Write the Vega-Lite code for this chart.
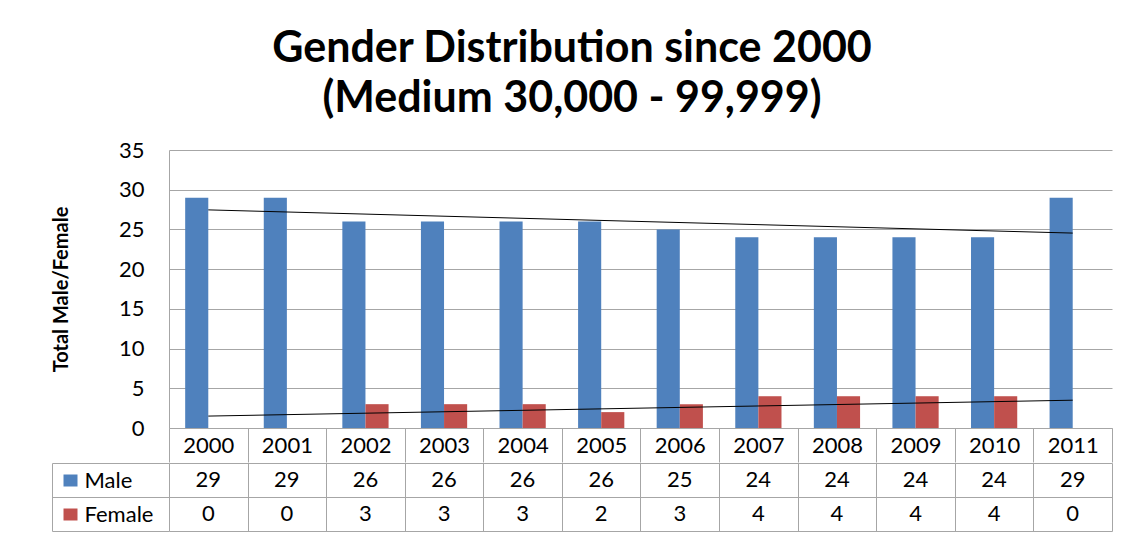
{
  "$schema": "https://vega.github.io/schema/vega-lite/v6.json",
  "padding": {"left": 51, "top": 28, "right": 24, "bottom": 5},
  "background": "white",
  "spacing": -12,
  "config": {
    "font": "Lato",
    "view": {"stroke": null}
  },
  "title": {
    "text": ["Gender Distribution since 2000", "(Medium 30,000 - 99,999)"],
    "font": "Lato",
    "fontSize": 43,
    "fontWeight": "bold",
    "lineHeight": 50,
    "color": "#000000",
    "anchor": "middle",
    "dx": -10,
    "offset": 18
  },
  "datasets": {
    "main": [
      {"year": "2000", "series": "Male", "value": 29},
      {"year": "2001", "series": "Male", "value": 29},
      {"year": "2002", "series": "Male", "value": 26},
      {"year": "2003", "series": "Male", "value": 26},
      {"year": "2004", "series": "Male", "value": 26},
      {"year": "2005", "series": "Male", "value": 26},
      {"year": "2006", "series": "Male", "value": 25},
      {"year": "2007", "series": "Male", "value": 24},
      {"year": "2008", "series": "Male", "value": 24},
      {"year": "2009", "series": "Male", "value": 24},
      {"year": "2010", "series": "Male", "value": 24},
      {"year": "2011", "series": "Male", "value": 29},
      {"year": "2000", "series": "Female", "value": 0},
      {"year": "2001", "series": "Female", "value": 0},
      {"year": "2002", "series": "Female", "value": 3},
      {"year": "2003", "series": "Female", "value": 3},
      {"year": "2004", "series": "Female", "value": 3},
      {"year": "2005", "series": "Female", "value": 2},
      {"year": "2006", "series": "Female", "value": 3},
      {"year": "2007", "series": "Female", "value": 4},
      {"year": "2008", "series": "Female", "value": 4},
      {"year": "2009", "series": "Female", "value": 4},
      {"year": "2010", "series": "Female", "value": 4},
      {"year": "2011", "series": "Female", "value": 0}
    ],
    "trend": [
      {"year": "2000", "series": "Male", "value": 27.46},
      {"year": "2011", "series": "Male", "value": 24.54},
      {"year": "2000", "series": "Female", "value": 1.5},
      {"year": "2011", "series": "Female", "value": 3.5}
    ]
  },
  "vconcat": [
    {
      "width": 943,
      "height": 278,
      "encoding": {
        "x": {
          "field": "year",
          "type": "nominal",
          "scale": {"paddingInner": 0, "paddingOuter": 0},
          "axis": {
            "title": null,
            "orient": "bottom",
            "tickBand": "extent",
            "tickSize": 34,
            "tickColor": "#a6a6a6",
            "domainColor": "#a6a6a6",
            "labelAngle": 0,
            "labelFont": "Lato",
            "labelFontSize": 22,
            "labelColor": "#000000",
            "labelBaseline": "middle",
            "labelPadding": -17,
            "minExtent": 34,
            "maxExtent": 34,
            "grid": false
          }
        },
        "y": {
          "field": "value",
          "type": "quantitative",
          "scale": {"domain": [0, 35], "nice": false},
          "axis": {
            "title": "Total Male/Female",
            "values": [0, 5, 10, 15, 20, 25, 30, 35],
            "labelOverlap": false,
            "ticks": false,
            "domainColor": "#a6a6a6",
            "gridColor": "#a6a6a6",
            "gridOpacity": 1,
            "labelFont": "Lato",
            "labelFontSize": 22,
            "labelColor": "#000000",
            "labelPadding": 25,
            "titleFont": "Lato",
            "titleFontSize": 20,
            "titleFontWeight": "bold",
            "titleColor": "#000000",
            "titlePadding": 47
          }
        }
      },
      "layer": [
        {
          "data": {"name": "main"},
          "mark": {"type": "bar"},
          "encoding": {
            "xOffset": {
              "field": "series",
              "type": "nominal",
              "scale": {"domain": ["Male", "Female"], "paddingInner": 0, "paddingOuter": 0.7}
            },
            "color": {
              "field": "series",
              "type": "nominal",
              "scale": {"domain": ["Male", "Female"], "range": ["#4F81BD", "#C0504D"]},
              "legend": null
            }
          }
        },
        {
          "data": {"name": "trend"},
          "mark": {"type": "line", "color": "#000000", "strokeWidth": 1},
          "encoding": {
            "detail": {"field": "series", "type": "nominal"}
          }
        }
      ]
    },
    {
      "width": 943,
      "height": 68,
      "data": {"name": "main"},
      "layer": [
        {
          "mark": {"type": "text", "fontSize": 22, "color": "#000000", "font": "Lato"},
          "encoding": {
            "x": {
              "field": "year",
              "type": "nominal",
              "scale": {"paddingInner": 0, "paddingOuter": 0},
              "axis": {
                "orient": "bottom",
                "title": null,
                "labels": false,
                "ticks": false,
                "domain": false,
                "grid": true,
                "tickBand": "extent",
                "gridColor": "#a6a6a6",
                "gridOpacity": 1,
                "minExtent": 0,
                "maxExtent": 0
              }
            },
            "y": {
              "field": "series",
              "type": "nominal",
              "scale": {"domain": ["Male", "Female"], "paddingInner": 0, "paddingOuter": 0},
              "axis": {
                "orient": "left",
                "title": null,
                "grid": true,
                "tickBand": "extent",
                "gridColor": "#a6a6a6",
                "gridOpacity": 1,
                "ticks": true,
                "tickSize": 117,
                "tickColor": "#a6a6a6",
                "domain": false,
                "labelAlign": "left",
                "labelBaseline": "middle",
                "labelPadding": -32,
                "labelFont": "Lato",
                "labelFontSize": 22,
                "labelColor": "#000000",
                "minExtent": 0
              }
            },
            "text": {"field": "value", "type": "quantitative"}
          }
        },
        {
          "mark": {"type": "text", "opacity": 0},
          "encoding": {
            "y": {
              "field": "series",
              "type": "nominal",
              "axis": {
                "orient": "left",
                "title": null,
                "grid": false,
                "labels": false,
                "domain": false,
                "offset": 92,
                "tickSize": 14,
                "tickWidth": 12,
                "tickColor": {"condition": {"test": "datum.value === 'Male'", "value": "#4F81BD"}, "value": "#C0504D"},
                "minExtent": 0
              }
            },
            "text": {"field": "value", "type": "quantitative"}
          }
        },
        {
          "mark": {"type": "text", "opacity": 0},
          "encoding": {
            "y": {
              "field": "series",
              "type": "nominal",
              "axis": {
                "orient": "left",
                "title": null,
                "grid": false,
                "labels": false,
                "ticks": false,
                "domain": true,
                "domainColor": "#a6a6a6",
                "offset": 117,
                "minExtent": 0
              }
            },
            "text": {"field": "value", "type": "quantitative"}
          }
        }
      ],
      "resolve": {"axis": {"y": "independent"}}
    }
  ]
}
